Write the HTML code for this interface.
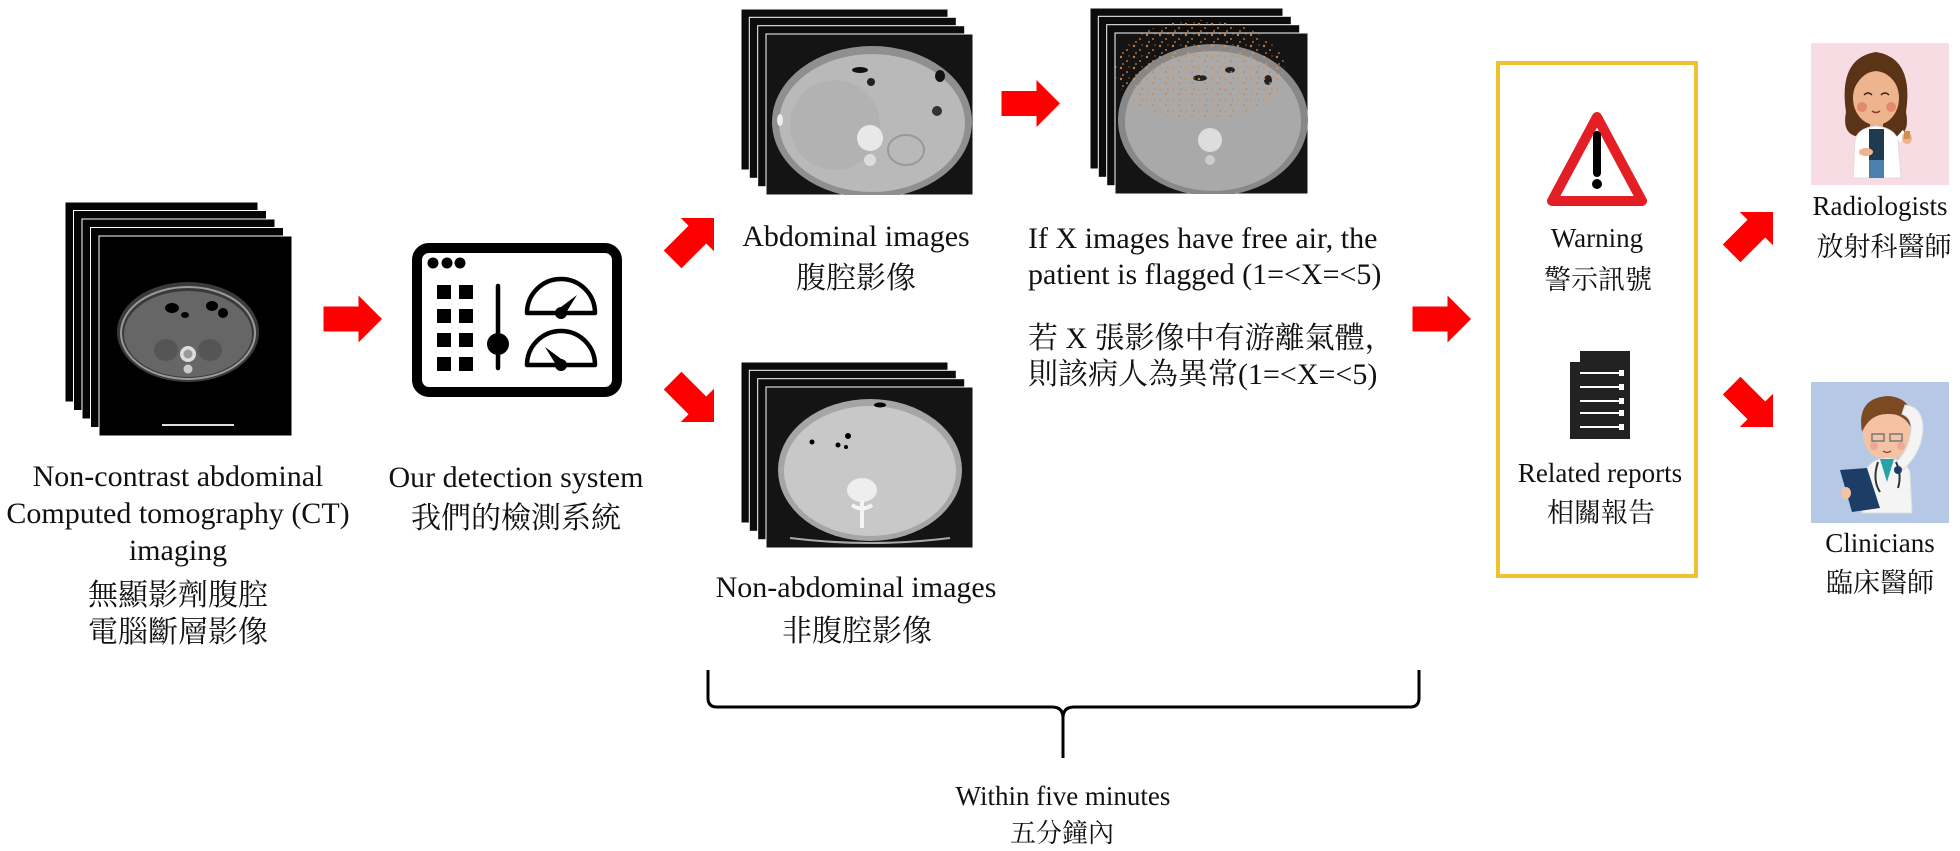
<!DOCTYPE html>
<html><head><meta charset="utf-8"><style>
html,body{margin:0;padding:0;background:#fff;}
body{width:1960px;height:851px;overflow:hidden;}
svg{display:block;}
text{font-family:"Liberation Serif","Noto Serif CJK SC",serif;fill:#111;}
</style></head><body>
<svg width="1960" height="851" viewBox="0 0 1960 851" xmlns="http://www.w3.org/2000/svg">
<defs>
<clipPath id="cL"><rect x="99" y="236" width="193" height="200"/></clipPath>
<clipPath id="cA"><rect x="766" y="34" width="207" height="161"/></clipPath>
<clipPath id="cN"><rect x="766" y="387" width="207" height="161"/></clipPath>
<clipPath id="cF"><rect x="1115" y="33" width="193" height="161"/></clipPath>
<pattern id="sp" width="13" height="11" patternUnits="userSpaceOnUse">
<circle cx="3" cy="2" r="1.2" fill="#e0904a"/><circle cx="9" cy="6" r="1" fill="#d88040"/><circle cx="5" cy="9" r="0.9" fill="#f0a060"/><circle cx="11" cy="1" r="0.7" fill="#c87838"/>
</pattern>
<g id="arr"><polygon points="-58.5,-12.5 -23.5,-12.5 -23.5,-23.5 0,0 -23.5,23.5 -23.5,12.5 -58.5,12.5" fill="#ff0000"/></g>
</defs>

<!-- Left CT stack -->
<g stroke="#fff" stroke-width="1">
<rect x="65" y="202" width="193" height="200" fill="#050505"/>
<rect x="73.5" y="210.5" width="193" height="200" fill="#050505"/>
<rect x="82" y="219" width="193" height="200" fill="#050505"/>
<rect x="90.5" y="227.5" width="193" height="200" fill="#050505"/>
<rect x="99" y="236" width="193" height="200" fill="#000"/>
</g>
<g clip-path="url(#cL)">
<ellipse cx="188" cy="332" rx="71" ry="50" fill="#3a3a3a"/>
<ellipse cx="188" cy="334" rx="64" ry="43" fill="#666"/>
<ellipse cx="188" cy="333" rx="67" ry="46" fill="none" stroke="#9a9a9a" stroke-width="2"/>
<ellipse cx="172" cy="308" rx="7" ry="5" fill="#000"/>
<ellipse cx="185" cy="315" rx="4" ry="3" fill="#000"/>
<ellipse cx="212" cy="306" rx="6" ry="5" fill="#000"/>
<ellipse cx="223" cy="313" rx="5" ry="5" fill="#000"/>
<ellipse cx="166" cy="350" rx="12" ry="11" fill="#555"/>
<ellipse cx="210" cy="350" rx="12" ry="11" fill="#555"/>
<circle cx="188" cy="354" r="8" fill="#ddd"/>
<circle cx="188" cy="354" r="4.5" fill="#999"/>
<circle cx="188" cy="369" r="4.5" fill="#ccc"/>
<rect x="162" y="424" width="72" height="2" fill="#ddd"/>
</g>

<!-- Abdominal stack -->
<g stroke="#fff" stroke-width="1">
<rect x="741" y="9" width="207" height="161" fill="#0c0c0c"/>
<rect x="749.3" y="17.3" width="207" height="161" fill="#0c0c0c"/>
<rect x="757.7" y="25.7" width="207" height="161" fill="#0c0c0c"/>
<rect x="766" y="34" width="207" height="161" fill="#141414"/>
</g>
<g clip-path="url(#cA)">
<ellipse cx="872" cy="122" rx="100" ry="76" fill="#8f8f8f"/>
<ellipse cx="872" cy="123" rx="93" ry="69" fill="#b9b9b9"/>
<ellipse cx="835" cy="125" rx="45" ry="45" fill="#b2b2b2"/>
<ellipse cx="860" cy="70" rx="8" ry="3" fill="#111"/>
<ellipse cx="871" cy="82" rx="4" ry="4" fill="#222"/>
<ellipse cx="940" cy="76" rx="5" ry="6" fill="#111"/>
<ellipse cx="937" cy="111" rx="5" ry="5" fill="#333"/>
<ellipse cx="906" cy="150" rx="18" ry="15" fill="none" stroke="#999" stroke-width="2"/>
<circle cx="870" cy="138" r="13" fill="#e8e8e8"/>
<circle cx="870" cy="160" r="6" fill="#ddd"/>
<ellipse cx="780" cy="120" rx="3" ry="6" fill="#eee"/>
</g>

<!-- Non-abdominal stack -->
<g stroke="#fff" stroke-width="1">
<rect x="741" y="362" width="207" height="161" fill="#0c0c0c"/>
<rect x="749.3" y="370.3" width="207" height="161" fill="#0c0c0c"/>
<rect x="757.7" y="378.7" width="207" height="161" fill="#0c0c0c"/>
<rect x="766" y="387" width="207" height="161" fill="#141414"/>
</g>
<g clip-path="url(#cN)">
<ellipse cx="870" cy="470" rx="92" ry="71" fill="#a5a5a5"/>
<ellipse cx="870" cy="471" rx="86" ry="65" fill="#c8c8c8"/>
<ellipse cx="862" cy="490" rx="15" ry="12" fill="#eee"/>
<path d="M862,500 L862,528 M852,505 Q862,512 872,505" stroke="#f4f4f4" stroke-width="4" fill="none"/>
<ellipse cx="880" cy="405" rx="6" ry="2.5" fill="#000"/>
<circle cx="848" cy="436" r="3" fill="#000"/>
<circle cx="838" cy="445" r="2.5" fill="#000"/>
<circle cx="846" cy="447" r="2" fill="#000"/>
<circle cx="812" cy="442" r="2.5" fill="#000"/>
<path d="M790,538 Q870,548 950,538" stroke="#aaa" stroke-width="2" fill="none"/>
</g>

<!-- Flagged stack -->
<g stroke="#fff" stroke-width="1">
<rect x="1090" y="8" width="193" height="161" fill="#0c0c0c"/>
<rect x="1098.3" y="16.3" width="193" height="161" fill="#0c0c0c"/>
<rect x="1106.7" y="24.7" width="193" height="161" fill="#0c0c0c"/>
<rect x="1115" y="33" width="193" height="161" fill="#141414"/>
</g>
<g clip-path="url(#cF)">
<ellipse cx="1213" cy="120" rx="95" ry="76" fill="#888"/>
<ellipse cx="1213" cy="121" rx="88" ry="70" fill="#a9a9a9"/>
<ellipse cx="1200" cy="78" rx="7" ry="3" fill="#222"/>
<ellipse cx="1230" cy="70" rx="5" ry="3" fill="#222"/>
<ellipse cx="1268" cy="80" rx="4" ry="5" fill="#222"/>
<circle cx="1210" cy="140" r="12" fill="#ddd"/>
<circle cx="1210" cy="160" r="5" fill="#ccc"/>
</g>
<ellipse cx="1200" cy="70" rx="85" ry="50" fill="url(#sp)" opacity="0.85"/>

<!-- Detection system icon -->
<rect x="417" y="248" width="200" height="144" rx="12" fill="none" stroke="#000" stroke-width="10"/>
<circle cx="433" cy="263" r="5.5"/><circle cx="447" cy="263" r="5.5"/><circle cx="460" cy="263" r="5.5"/>
<g fill="#000">
<rect x="437" y="285" width="14" height="14"/><rect x="459" y="285" width="14" height="14"/>
<rect x="437" y="309" width="14" height="14"/><rect x="459" y="309" width="14" height="14"/>
<rect x="437" y="333" width="14" height="14"/><rect x="459" y="333" width="14" height="14"/>
<rect x="437" y="357" width="14" height="14"/><rect x="459" y="357" width="14" height="14"/>
</g>
<line x1="498" y1="286" x2="498" y2="368" stroke="#000" stroke-width="4.5" stroke-linecap="round"/>
<circle cx="498" cy="344" r="11"/>
<path d="M527,313 A34,34 0 0 1 595,313 Z" fill="none" stroke="#000" stroke-width="4.5" stroke-linejoin="round"/>
<polygon points="557,310 564,316 577,295" fill="#000"/>
<circle cx="561" cy="313" r="6"/>
<path d="M527,365 A34,34 0 0 1 595,365 Z" fill="none" stroke="#000" stroke-width="4.5" stroke-linejoin="round"/>
<polygon points="558,368 564,361 545,347" fill="#000"/>
<circle cx="561" cy="365" r="6"/>

<!-- Arrows -->
<use href="#arr" transform="translate(382,319)"/>
<use href="#arr" transform="translate(714,218) rotate(-45)"/>
<use href="#arr" transform="translate(714,422) rotate(45)"/>
<use href="#arr" transform="translate(1060,103.5)"/>
<use href="#arr" transform="translate(1471,319)"/>
<use href="#arr" transform="translate(1773,212) rotate(-45)"/>
<use href="#arr" transform="translate(1773,427) rotate(45)"/>

<!-- Yellow box -->
<rect x="1498" y="63" width="198" height="513" fill="none" stroke="#F0C030" stroke-width="4"/>
<path d="M1597,117 L1642,201 L1552,201 Z" fill="#fff" stroke="#E31E24" stroke-width="10" stroke-linejoin="round"/>
<line x1="1597" y1="135" x2="1597" y2="173" stroke="#000" stroke-width="8" stroke-linecap="round"/>
<circle cx="1597" cy="184" r="5"/>
<path d="M1580,351 L1630,351 L1630,439 L1570,439 L1570,362 L1580,362 Z" fill="#222"/>
<g stroke="#fff" stroke-width="2">
<line x1="1580" y1="373" x2="1620" y2="373"/><line x1="1580" y1="387" x2="1620" y2="387"/>
<line x1="1580" y1="401" x2="1620" y2="401"/><line x1="1580" y1="413" x2="1620" y2="413"/>
<line x1="1580" y1="427" x2="1620" y2="427"/>
</g>
<g fill="#fff">
<rect x="1619" y="370" width="5" height="6"/><rect x="1619" y="384" width="5" height="6"/>
<rect x="1619" y="398" width="5" height="6"/><rect x="1619" y="410" width="5" height="6"/>
<rect x="1619" y="424" width="5" height="6"/>
</g>

<!-- Radiologist -->
<rect x="1811" y="43" width="138" height="142" fill="#F7DCE3"/>
<path d="M1846,112 Q1838,58 1876,52 Q1914,58 1906,112 Q1910,132 1898,136 L1855,136 Q1842,132 1846,112 Z" fill="#5b3417"/>
<rect x="1870" y="118" width="13" height="12" fill="#E8AC86"/>
<ellipse cx="1876" cy="98" rx="23" ry="27" fill="#EDB48E"/>
<path d="M1852,94 Q1854,62 1876,60 Q1900,62 1901,94 Q1892,72 1876,71 Q1860,72 1852,94 Z" fill="#5b3417"/>
<path d="M1864,95 Q1868,91 1872,95 M1881,95 Q1885,91 1889,95" stroke="#3a2010" stroke-width="1.5" fill="none"/>
<circle cx="1862" cy="107" r="5" fill="#E07860" opacity="0.7"/>
<circle cx="1891" cy="107" r="5" fill="#E07860" opacity="0.7"/>
<path d="M1872,111 Q1876,114 1880,111" stroke="#8a3a2a" stroke-width="1.5" fill="none"/>
<path d="M1853,178 L1855,140 Q1858,128 1876,126 Q1894,128 1898,140 L1901,178 Z" fill="#fff" stroke="#ddd" stroke-width="1"/>
<rect x="1869" y="129" width="15" height="49" fill="#1F3B52"/>
<rect x="1869" y="160" width="15" height="18" fill="#4A7FAE"/>
<ellipse cx="1866" cy="152" rx="7" ry="4" fill="#EDB48E"/>
<path d="M1898,140 L1905,132" stroke="#fff" stroke-width="6"/>
<ellipse cx="1907" cy="138" rx="5" ry="6" fill="#EDB48E"/>
<rect x="1904" y="131" width="6" height="8" fill="#d09050"/>

<!-- Clinician -->
<rect x="1811" y="382" width="138" height="141" fill="#B5C9E7"/>
<ellipse cx="1887" cy="435" rx="24" ry="25" fill="#F3C3A3"/>
<path d="M1862,432 Q1856,398 1888,396 Q1916,398 1912,430 Q1905,413 1887,414 Q1870,414 1862,432 Z" fill="#7B4A23"/>
<rect x="1872" y="434" width="12" height="7" fill="none" stroke="#777" stroke-width="1.5"/>
<rect x="1890" y="434" width="12" height="7" fill="none" stroke="#777" stroke-width="1.5"/>
<circle cx="1874" cy="446" r="4" fill="#E9968A" opacity="0.6"/>
<circle cx="1901" cy="446" r="4" fill="#E9968A" opacity="0.6"/>
<path d="M1883,451 Q1887,454 1891,451" stroke="#8a3a2a" stroke-width="1.3" fill="none"/>
<path d="M1862,513 L1865,472 Q1870,459 1887,458 Q1905,459 1910,472 L1912,513 Z" fill="#f4f4f4" stroke="#ddd" stroke-width="1"/>
<path d="M1880,459 L1887,482 L1894,459 Z" fill="#2AA0A8"/>
<path d="M1903,470 Q1924,450 1923,425 Q1921,406 1905,405 L1902,414 Q1912,418 1911,430 Q1909,450 1896,462 Z" fill="#f4f4f4" stroke="#ddd" stroke-width="1"/>
<path d="M1878,462 Q1872,480 1880,492 M1896,462 Q1902,475 1898,488" stroke="#333" stroke-width="2" fill="none"/>
<circle cx="1898" cy="470" r="4" fill="#1C3D66"/>
<polygon points="1840,470 1867,468 1880,508 1852,512" fill="#1C3D66"/>
<ellipse cx="1846" cy="493" rx="5" ry="6" fill="#F3C3A3"/>

<!-- Brace -->
<path d="M708,670 L708,698 Q708,707 717,707 L1052,707 Q1063,707 1063,718 L1063,758 M1063,718 Q1063,707 1074,707 L1410,707 Q1419,707 1419,698 L1419,670" fill="none" stroke="#000" stroke-width="3"/>

<!-- Text -->
<g font-size="30" text-anchor="middle" font-family="'Liberation Serif','Noto Serif CJK SC',serif">
<text x="178" y="486">Non-contrast abdominal</text>
<text x="178" y="523">Computed tomography (CT)</text>
<text x="178" y="560">imaging</text>
<text x="178" y="605">無顯影劑腹腔</text>
<text x="178" y="642">電腦斷層影像</text>
<text x="516" y="487">Our detection system</text>
<text x="516" y="528">我們的檢測系統</text>
<text x="856" y="246">Abdominal images</text>
<text x="856" y="288">腹腔影像</text>
<text x="856" y="597">Non-abdominal images</text>
<text x="857" y="641">非腹腔影像</text>
</g>
<g font-size="30" font-family="'Liberation Serif','Noto Serif CJK SC',serif">
<text x="1028" y="248">If X images have free air, the</text>
<text x="1028" y="284">patient is flagged (1=&lt;X=&lt;5)</text>
<text x="1028" y="348">若 X 張影像中有游離氣體，</text>
<text x="1028" y="384">則該病人為異常(1=&lt;X=&lt;5)</text>
</g>
<g font-size="27" text-anchor="middle" font-family="'Liberation Serif','Noto Serif CJK SC',serif">
<text x="1597" y="247">Warning</text>
<text x="1598" y="289">警示訊號</text>
<text x="1600" y="482">Related reports</text>
<text x="1601" y="522">相關報告</text>
<text x="1880" y="215">Radiologists</text>
<text x="1884" y="256">放射科醫師</text>
<text x="1880" y="552">Clinicians</text>
<text x="1880" y="592">臨床醫師</text>
<text x="1063" y="805">Within five minutes</text>
</g>
<text x="1062" y="842" font-size="26" text-anchor="middle" font-family="'Liberation Serif','Noto Serif CJK SC',serif">五分鐘內</text>
</svg>
</body></html>
